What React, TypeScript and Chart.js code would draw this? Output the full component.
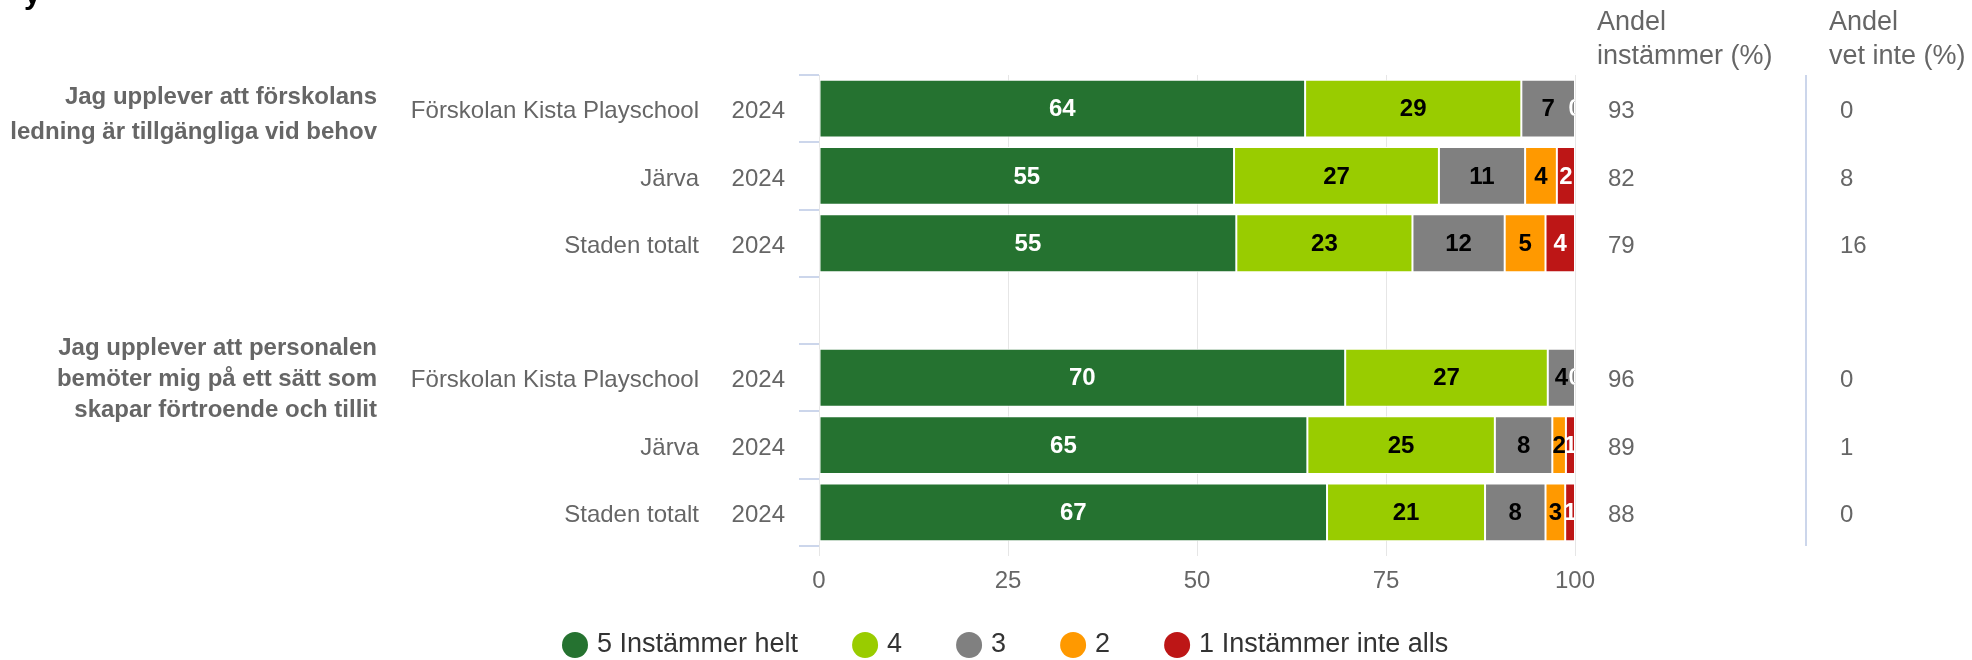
import React, { useEffect, useRef } from 'react';
import { Chart, registerables } from 'chart.js';

Chart.register(...registerables);

const FONT = '"Liberation Sans", Arial, Helvetica, sans-serif';

// ---- data ----
const groupLabels: string[][] = [
  ['Jag upplever att förskolans', 'ledning är tillgängliga vid behov'],
  ['Jag upplever att personalen', 'bemöter mig på ett sätt som', 'skapar förtroende och tillit'],
];
const groupAnchorIndex = [0, 4];
const units = ['Förskolan Kista Playschool', 'Järva', 'Staden totalt', '', 'Förskolan Kista Playschool', 'Järva', 'Staden totalt'];
const years = ['2024', '2024', '2024', '', '2024', '2024', '2024'];
const seriesNames = ['5 Instämmer helt', '4', '3', '2', '1 Instämmer inte alls'];
const s5 = [64.3, 54.9, 55.2, null, 69.6, 64.6, 67.2];
const s4 = [28.6, 27.1, 23.3, null, 26.8, 24.8, 20.9];
const s3 = [7.1, 11.4, 12.2, null, 3.6, 7.6, 8.0];
const s2 = [0, 4.2, 5.4, null, 0, 1.8, 2.6];
const s1 = [0, 2.4, 3.9, null, 0, 1.2, 1.3];
const andelInstammer = ['93', '82', '79', '', '96', '89', '88'];
const andelVetInte = ['0', '8', '16', '', '0', '1', '0'];
const xTicks = [0, 25, 50, 75, 100];
const headerInstammer = ['Andel', 'instämmer (%)'];
const headerVetInte = ['Andel', 'vet inte (%)'];

const colors = ['#257230', '#99cc00', '#808080', '#ff9900', '#bd1616'];
const labelColors = ['#ffffff', '#000000', '#000000', '#000000', '#ffffff'];

const overlay = {
  id: 'overlay',
  afterDatasetsDraw(chart: any) {
    const ctx = chart.ctx;
    const a = chart.chartArea;
    ctx.save();
    ctx.beginPath();
    ctx.rect(a.left, a.top, a.right - a.left, a.bottom - a.top);
    ctx.clip();
    ctx.font = `bold 24px ${FONT}`;
    ctx.textAlign = 'center';
    ctx.textBaseline = 'middle';
    chart.data.datasets.forEach((ds: any, di: number) => {
      const meta = chart.getDatasetMeta(di);
      meta.data.forEach((el: any, i: number) => {
        const v = ds.data[i];
        if (v === null || v === undefined) return;
        const p = el.getProps(['x', 'base', 'y'], true);
        ctx.fillStyle = labelColors[di];
        ctx.fillText(String(Math.round(v)), (p.x + p.base) / 2, p.y + 1);
      });
    });
    ctx.restore();
  },
  afterDraw(chart: any) {
    const ctx = chart.ctx;
    const y = chart.scales.y;
    const a = chart.chartArea;
    ctx.save();
    ctx.textBaseline = 'middle';

    // cropped title fragment
    ctx.fillStyle = '#000000';
    ctx.font = `bold 30px ${FONT}`;
    ctx.textAlign = 'left';
    ctx.fillText('y', 24, -4);

    // group labels
    ctx.font = `bold 24px ${FONT}`;
    ctx.fillStyle = '#666666';
    ctx.textAlign = 'right';
    groupLabels.forEach((lines, g) => {
      const cy = y.getPixelForValue(groupAnchorIndex[g]) + (g === 0 ? 6 : 2);
      const lh = g === 0 ? 35 : 31;
      const start = cy - ((lines.length - 1) * lh) / 2;
      lines.forEach((t, k) => ctx.fillText(t, 377, start + k * lh));
    });

    // category + year labels, right columns
    ctx.font = `24px ${FONT}`;
    units.forEach((u, i) => {
      const cy = y.getPixelForValue(i) + 3;
      ctx.textAlign = 'right';
      if (u) ctx.fillText(u, 699, cy);
      if (years[i]) ctx.fillText(years[i], 785, cy);
      ctx.textAlign = 'left';
      if (andelInstammer[i]) ctx.fillText(andelInstammer[i], 1608, cy);
      if (andelVetInte[i]) ctx.fillText(andelVetInte[i], 1840, cy);
    });

    // headers
    ctx.font = `27px ${FONT}`;
    ctx.textAlign = 'left';
    headerInstammer.forEach((t, k) => ctx.fillText(t, 1597, 23 + k * 34));
    headerVetInte.forEach((t, k) => ctx.fillText(t, 1829, 23 + k * 34));

    // separator line
    ctx.strokeStyle = '#ccd6eb';
    ctx.lineWidth = 2;
    ctx.beginPath();
    ctx.moveTo(1806, 75);
    ctx.lineTo(1806, a.bottom);
    ctx.stroke();

    // legend
    ctx.font = `27px ${FONT}`;
    ctx.textAlign = 'left';
    let cx = 575;
    const ly = 645;
    seriesNames.forEach((name, i) => {
      ctx.fillStyle = colors[i];
      ctx.beginPath();
      ctx.arc(cx, ly, 13, 0, Math.PI * 2);
      ctx.fill();
      ctx.fillStyle = '#333333';
      ctx.fillText(name, cx + 22, ly);
      const w = ctx.measureText(name).width;
      cx = cx + 22 + w + 67;
    });
    ctx.restore();
  },
};

export default function App() {
  const ref = useRef<HTMLCanvasElement>(null);
  useEffect(() => {
    document.body.style.margin = '0';
    const series = [s5, s4, s3, s2, s1];
    const chart = new Chart(ref.current as HTMLCanvasElement, {
      type: 'bar',
      data: {
        labels: units,
        datasets: series.map((d, i) => ({
          label: seriesNames[i],
          data: d as any,
          backgroundColor: colors[i],
          borderColor: '#ffffff',
          borderWidth: 1,
          borderSkipped: false,
          barPercentage: 0.86,
          categoryPercentage: 1,
        })),
      },
      options: {
        indexAxis: 'y',
        animation: false,
        responsive: false,
        layout: { padding: { top: 75, right: 397, left: 0, bottom: 0 } },
        plugins: { legend: { display: false }, tooltip: { enabled: false } },
        scales: {
          x: {
            stacked: true,
            min: 0,
            max: 100,
            afterBuildTicks: (s: any) => {
              s.ticks = xTicks.map((v) => ({ value: v }));
            },
            ticks: { font: { size: 24, family: FONT }, color: '#666666', padding: 11 },
            grid: { color: '#e6e6e6', tickLength: 10, drawTicks: true },
            border: { display: false },
            afterFit: (s: any) => {
              s.height = 114;
            },
          },
          y: {
            stacked: true,
            ticks: { display: false },
            grid: { drawOnChartArea: false, drawTicks: true, tickLength: 20, color: '#ccd6eb', offset: true, lineWidth: 2 },
            border: { display: false },
            afterFit: (s: any) => {
              s.width = 819;
            },
          },
        },
      } as any,
      plugins: [overlay],
    });
    return () => chart.destroy();
  }, []);
  return (
    <div style={{ width: 1972, height: 660 }}>
      <canvas ref={ref} width={1972} height={660} style={{ display: 'block' }} />
    </div>
  );
}
